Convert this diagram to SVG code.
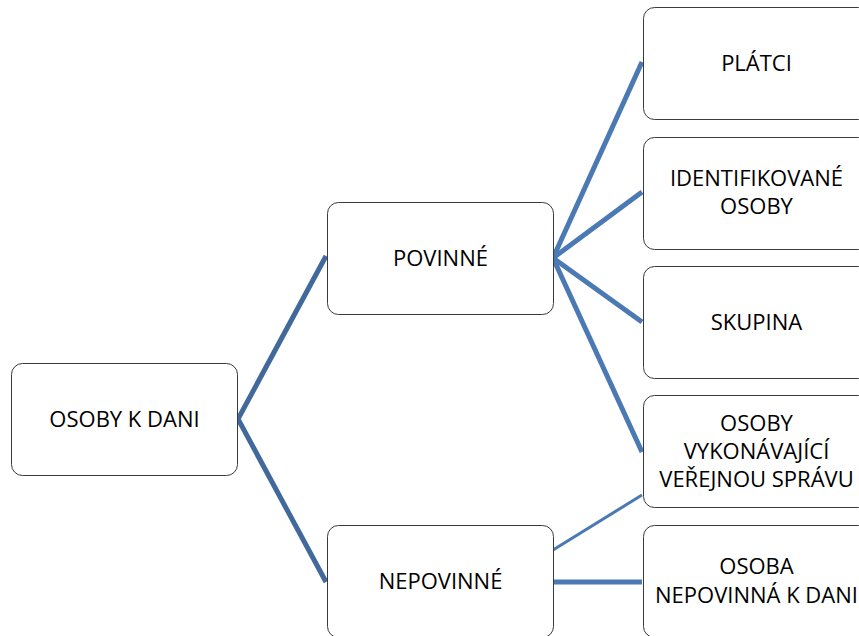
<svg xmlns="http://www.w3.org/2000/svg" width="859" height="636" viewBox="0 0 859 636">
<style>
.box{fill:#ffffff;stroke:#3a3a3a;stroke-width:1}
.t{font-family:"Open Sans","Liberation Sans",Arial,sans-serif;font-size:22px;fill:#000;text-anchor:middle}
.c1{stroke:#41699b;stroke-width:5;fill:none}
.c2{stroke:#4a79b3;stroke-width:5;fill:none}
.c3{stroke:#4a79b3;stroke-width:3;fill:none}
</style>
<rect width="859" height="636" fill="#ffffff"/>
<g id="connectors">
<polyline class="c1" points="326,256 238,419 326,582"/>
<line class="c2" x1="553" y1="258" x2="642" y2="62"/>
<line class="c2" x1="553" y1="258" x2="642" y2="192"/>
<line class="c2" x1="553" y1="258" x2="642" y2="322"/>
<line class="c2" x1="553" y1="258" x2="642" y2="452"/>
<line class="c3" x1="553" y1="550" x2="642" y2="495"/>
<line class="c2" x1="553" y1="582" x2="642" y2="582"/>
</g>
<g id="root">
<rect class="box" x="11.5" y="363.5" width="226" height="112" rx="11"/>
<text class="t" x="124.5" y="427">OSOBY K DANI</text>
</g>
<g id="povinne">
<rect class="box" x="327.5" y="202.5" width="226" height="112" rx="11"/>
<text class="t" x="440.5" y="266">POVINNÉ</text>
</g>
<g id="nepovinne">
<rect class="box" x="327.5" y="525.5" width="226" height="112" rx="11"/>
<text class="t" x="440.5" y="589">NEPOVINNÉ</text>
</g>
<g id="platci">
<rect class="box" x="643.5" y="7.5" width="226" height="112" rx="11"/>
<text class="t" x="756.5" y="71">PLÁTCI</text>
</g>
<g id="identifikovane">
<rect class="box" x="643.5" y="137.5" width="226" height="112" rx="11"/>
<text class="t" x="756.5" y="186">IDENTIFIKOVANÉ</text>
<text class="t" x="756.5" y="214">OSOBY</text>
</g>
<g id="skupina">
<rect class="box" x="643.5" y="266.5" width="226" height="112" rx="11"/>
<text class="t" x="756.5" y="330">SKUPINA</text>
</g>
<g id="verejna-sprava">
<rect class="box" x="643.5" y="395.5" width="226" height="112" rx="11"/>
<text class="t" x="756.5" y="431">OSOBY</text>
<text class="t" x="756.5" y="459">VYKONÁVAJÍCÍ</text>
<text class="t" x="756.5" y="487">VEŘEJNOU SPRÁVU</text>
</g>
<g id="nepovinna-osoba">
<rect class="box" x="643.5" y="525.5" width="226" height="112" rx="11"/>
<text class="t" x="756.5" y="574">OSOBA</text>
<text class="t" x="756.5" y="603">NEPOVINNÁ K DANI</text>
</g>
</svg>
